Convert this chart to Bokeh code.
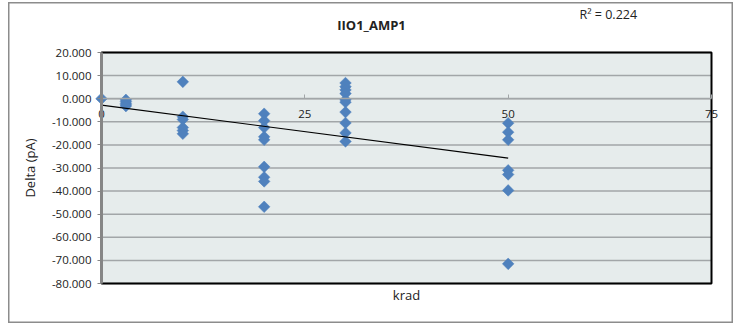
import math
import numpy as np
from bokeh.plotting import figure
from bokeh.models import ColumnDataSource, NumeralTickFormatter, FixedTicker, Label, Range1d
from bokeh.embed import file_html
from bokeh.resources import INLINE

# ---- data ----
krad_0 = [0]
delta_0 = [0.0]
krad_3 = [3, 3, 3, 3, 3]
delta_3 = [-0.5, -1.2, -2.0, -2.6, -3.2]
krad_10 = [10, 10, 10, 10, 10, 10]
delta_10 = [7.3, -7.8, -9.0, -12.5, -13.8, -15.2]
krad_20 = [20, 20, 20, 20, 20, 20, 20, 20, 20]
delta_20 = [-6.5, -9.5, -12.5, -16.5, -17.8, -29.5, -34.0, -35.8, -46.8]
krad_30 = [30, 30, 30, 30, 30, 30, 30, 30, 30, 30]
delta_30 = [6.8, 5.2, 3.8, 2.2, -0.5, -1.5, -5.8, -10.5, -14.8, -18.5]
krad_50 = [50, 50, 50, 50, 50, 50, 50]
delta_50 = [-10.6, -14.5, -17.8, -31.0, -32.8, -39.7, -71.5]

x_ticks = [0, 25, 50, 75]
y_ticks = [20, 10, 0, -10, -20, -30, -40, -50, -60, -70, -80]
title_text = "IIO1_AMP1"
r2_text = "R\u00b2 = 0.224"
x_title = "krad"
y_title = "Delta (pA)"

X_MIN, X_MAX = x_ticks[0], x_ticks[-1]
Y_MIN, Y_MAX = min(y_ticks), max(y_ticks)

xs = np.array(krad_0 + krad_3 + krad_10 + krad_20 + krad_30 + krad_50, dtype=float)
ys = np.array(delta_0 + delta_3 + delta_10 + delta_20 + delta_30 + delta_50, dtype=float)
slope, intercept = np.polyfit(xs, ys, 1)
fit_x = [xs.min(), xs.max()]
fit_y = [intercept + slope * v for v in fit_x]

# ---- layout (pixels) ----
FIG_W, FIG_H = 725, 321          # chart box
PL, PR, PT, PB = 93, 703, 50, 281  # plot area inside chart box
sx = (PR - PL) / (X_MAX - X_MIN)
sy = (PB - PT) / (Y_MAX - Y_MIN)
x_range = Range1d(X_MIN - PL / sx, X_MAX + (FIG_W - PR) / sx)
y_range = Range1d(Y_MIN - (FIG_H - PB) / sy, Y_MAX + PT / sy)

FONT = "Open Sans"
TXT = "#222222"

p = figure(frame_width=FIG_W, frame_height=FIG_H, output_backend="svg", toolbar_location=None,
           x_range=x_range, y_range=y_range, min_border=0)
p.margin = (2, 0, 0, 8)
p.background_fill_color = "white"
p.border_fill_color = "white"
p.outline_line_color = "#8C8C8C"
p.outline_line_width = 2
p.xgrid.grid_line_color = None
p.ygrid.grid_line_color = None

# plot area background
p.quad(left=[X_MIN], right=[X_MAX], bottom=[Y_MIN], top=[Y_MAX],
       fill_color="#E6ECEC", line_color=None)
# horizontal gridlines
p.segment(x0=[X_MIN] * len(y_ticks), x1=[X_MAX] * len(y_ticks), y0=y_ticks, y1=y_ticks,
          line_color="#A2A6A8", line_width=1.5)

# y axis
p.yaxis.fixed_location = X_MIN
p.yaxis.bounds = (Y_MIN, Y_MAX)
p.yaxis.ticker = FixedTicker(ticks=y_ticks)
p.yaxis.formatter = NumeralTickFormatter(format="0.000")
p.yaxis.axis_line_color = "#868686"
p.yaxis.axis_line_width = 3
p.yaxis.major_tick_line_color = "#868686"
p.yaxis.major_tick_in = 0
p.yaxis.major_tick_out = 4
p.yaxis.minor_tick_line_color = None
p.yaxis.major_label_text_font = FONT
p.yaxis.major_label_text_font_size = "11.5px"
p.yaxis.major_label_text_color = TXT
p.yaxis.major_label_standoff = 6
p.yaxis.axis_label = y_title
p.yaxis.axis_label_text_font = FONT
p.yaxis.axis_label_text_font_size = "13px"
p.yaxis.axis_label_text_font_style = "normal"
p.yaxis.axis_label_text_color = TXT
p.yaxis.axis_label_standoff = 10

# x axis crossing at y = 0
p.xaxis.fixed_location = 0
p.xaxis.bounds = (X_MIN, X_MAX)
p.xaxis.ticker = FixedTicker(ticks=x_ticks)
p.xaxis.axis_line_color = "#A2A6A8"
p.xaxis.axis_line_width = 1.5
p.xaxis.major_tick_line_color = "#A2A6A8"
p.xaxis.major_tick_in = 4
p.xaxis.major_tick_out = 0
p.xaxis.minor_tick_line_color = None
p.xaxis.major_label_text_font = FONT
p.xaxis.major_label_text_font_size = "11.5px"
p.xaxis.major_label_text_color = TXT
p.xaxis.major_label_standoff = 11

src = ColumnDataSource(dict(x=xs, y=ys))
p.scatter("x", "y", source=src, marker="square", angle=math.pi / 4, size=8.2,
          fill_color="#4F81BD", line_color="#4F81BD", line_width=0.5)
p.line(fit_x, fit_y, line_color="black", line_width=1.2)

# plot area border
p.quad(left=[X_MIN], right=[X_MAX], bottom=[Y_MIN], top=[Y_MAX],
       fill_color=None, line_color="black", line_width=2)

# texts
p.add_layout(Label(x=X_MIN + (363 - PL) / sx, y=Y_MAX + 28 / sy, text=title_text,
                   text_font=FONT, text_font_size="13px", text_font_style="bold",
                   text_align="center", text_baseline="middle", text_color=TXT))
p.add_layout(Label(x=X_MIN + (571 - PL) / sx, y=Y_MAX + 38 / sy, text=r2_text,
                   text_font=FONT, text_font_size="12.5px", text_align="left",
                   text_baseline="middle", text_color=TXT))
p.add_layout(Label(x=(X_MIN + X_MAX) / 2, y=Y_MIN - 11 / sy, text=x_title,
                   text_font=FONT, text_font_size="13px", text_align="center",
                   text_baseline="middle", text_color=TXT))

open("out.html", "w").write(file_html(p, INLINE))
